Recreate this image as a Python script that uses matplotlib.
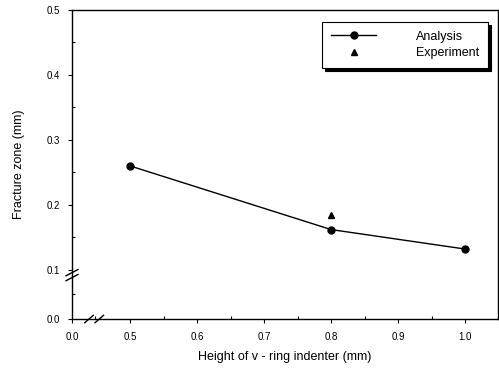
import matplotlib
matplotlib.use('Agg')
import matplotlib.pyplot as plt
import numpy as np

plt.rcParams['font.family'] = ['Liberation Sans', 'DejaVu Sans']

# data
height_analysis = [0.5, 0.8, 1.0]
zone_analysis = [0.26, 0.162, 0.132]
height_exp = [0.8]
zone_exp = [0.184]

x_ticks = [0.0, 0.5, 0.6, 0.7, 0.8, 0.9, 1.0]
x_ticklabels = ['0.0', '0.5', '0.6', '0.7', '0.8', '0.9', '1.0']
y_ticks = [0.0, 0.1, 0.2, 0.3, 0.4, 0.5]
y_ticklabels = ['0.0', '0.1', '0.2', '0.3', '0.4', '0.5']

# broken axes: compress the part below the break
kx, bx = 0.173, 0.5
ky, by = 0.757, 0.1

def fwd_x(v):
    v = np.asarray(v, dtype=float)
    return np.where(v >= bx, v, bx - (bx - v) * kx)

def inv_x(t):
    t = np.asarray(t, dtype=float)
    return np.where(t >= bx, t, bx - (bx - t) / kx)

def fwd_y(v):
    v = np.asarray(v, dtype=float)
    return np.where(v >= by, v, by - (by - v) * ky)

def inv_y(t):
    t = np.asarray(t, dtype=float)
    return np.where(t >= by, t, by - (by - t) / ky)

fig = plt.figure(figsize=(4.99, 3.70), dpi=100)
ax = fig.add_axes([0.1443, 0.1378, 0.8537, 0.8352])
ax.set_xscale('function', functions=(fwd_x, inv_x))
ax.set_yscale('function', functions=(fwd_y, inv_y))

ax.plot(height_analysis, zone_analysis, 'o-', color='black', lw=1.0,
        markersize=5, label='Analysis')
ax.plot(height_exp, zone_exp, '^', color='black', markersize=5,
        linestyle='none', label='Experiment')

ax.set_xlim(0.0, 1.049)
ax.set_ylim(0.0, 0.5)
ax.set_xticks(x_ticks)
ax.set_xticklabels(x_ticklabels)
ax.set_yticks(y_ticks)
ax.set_yticklabels(y_ticklabels)
ax.set_xticks([0.2, 0.55, 0.65, 0.75, 0.85, 0.95], minor=True)
ax.set_yticks([0.05, 0.15, 0.25, 0.35, 0.45], minor=True)
ax.tick_params(which='major', direction='out', length=3, width=0.8,
               labelsize=7, pad=6)
ax.tick_params(which='minor', direction='in', length=2, width=0.8)

for s in ax.spines.values():
    s.set_linewidth(1.0)

ax.set_xlabel('Height of v - ring indenter (mm)', fontsize=9, labelpad=7)
ax.set_ylabel('Fracture zone (mm)', fontsize=9, labelpad=15)

# break marks
for dx in (-0.012, 0.012):
    ax.plot([0.052 + dx - 0.01, 0.052 + dx + 0.01], [-0.012, 0.012],
            transform=ax.transAxes, color='black', lw=1.0, clip_on=False)
for dy in (-0.008, 0.008):
    ax.plot([-0.014, 0.014], [0.142 + dy - 0.01, 0.142 + dy + 0.01],
            transform=ax.transAxes, color='black', lw=1.0, clip_on=False)

leg = ax.legend(loc='upper right', bbox_to_anchor=(0.977, 0.961),
                borderaxespad=0, fancybox=False,
                shadow={'color': 'black', 'alpha': 1.0},
                edgecolor='black', fontsize=9, handlelength=3.6,
                handletextpad=3.2, borderpad=0.7, labelspacing=0.35)
leg.get_frame().set_linewidth(0.8)

fig.savefig('out.png', dpi=100)
